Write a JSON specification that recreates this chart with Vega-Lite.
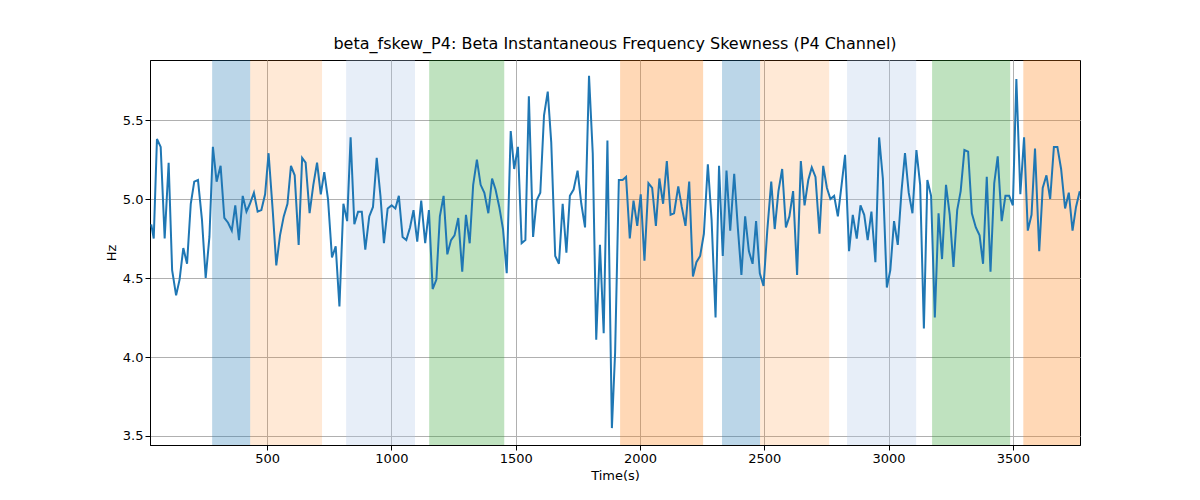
{
"$schema":"https://vega.github.io/schema/vega-lite/v6.json",
"autosize":{"type":"none"},
"width":930,"height":385,
"padding":{"left":150,"top":60,"right":120,"bottom":55},
"background":"white",
"config":{"font":"DejaVu Sans","view":{"stroke":"black","strokeWidth":1},
"axis":{"labelFont":"DejaVu Sans","titleFont":"DejaVu Sans","labelFontSize":13,"titleFontSize":13,"titleFontWeight":"normal","labelColor":"black","titleColor":"black","tickColor":"black","domainColor":"black","gridColor":"#b0b0b0","gridWidth":1,"tickSize":5}},
"title":{"text":"beta_fskew_P4: Beta Instantaneous Frequency Skewness (P4 Channel)","fontSize":16,"fontWeight":"normal","font":"DejaVu Sans","offset":8},
"datasets":{
"bands":[
{"s":279,"e":432,"c":"#1f77b4","o":0.3},
{"s":432,"e":721,"c":"#ff7f0e","o":0.17},
{"s":818,"e":1095,"c":"#aec7e8","o":0.3},
{"s":1152,"e":1454,"c":"#2ca02c","o":0.3},
{"s":1920,"e":2254,"c":"#ff7f0e","o":0.3},
{"s":2330,"e":2483,"c":"#1f77b4","o":0.3},
{"s":2483,"e":2761,"c":"#ff7f0e","o":0.17},
{"s":2833,"e":3111,"c":"#aec7e8","o":0.3},
{"s":3175,"e":3489,"c":"#2ca02c","o":0.3},
{"s":3542,"e":3770,"c":"#ff7f0e","o":0.3}
],
"series":[
{"t":34,"v":4.84},{"t":44,"v":4.75},{"t":57,"v":5.38},{"t":72,"v":5.33},{"t":88,"v":4.75},{"t":104,"v":5.23},{"t":118,"v":4.55},{"t":134,"v":4.39},{"t":148,"v":4.49},{"t":163,"v":4.69},{"t":178,"v":4.59},{"t":193,"v":4.97},{"t":207,"v":5.11},{"t":222,"v":5.12},{"t":238,"v":4.87},{"t":253,"v":4.5},{"t":268,"v":4.76},{"t":282,"v":5.33},{"t":297,"v":5.11},{"t":313,"v":5.21},{"t":328,"v":4.88},{"t":343,"v":4.85},{"t":358,"v":4.8},{"t":372,"v":4.96},{"t":387,"v":4.74},{"t":402,"v":5.02},{"t":417,"v":4.92},{"t":431,"v":4.97},{"t":447,"v":5.04},{"t":462,"v":4.92},{"t":477,"v":4.93},{"t":492,"v":5.03},{"t":506,"v":5.29},{"t":523,"v":4.92},{"t":537,"v":4.58},{"t":552,"v":4.77},{"t":567,"v":4.89},{"t":582,"v":4.97},{"t":596,"v":5.21},{"t":611,"v":5.15},{"t":627,"v":4.71},{"t":641,"v":5.26},{"t":655,"v":5.23},{"t":671,"v":4.91},{"t":686,"v":5.09},{"t":701,"v":5.23},{"t":716,"v":5.03},{"t":730,"v":5.17},{"t":745,"v":5.0},{"t":761,"v":4.63},{"t":776,"v":4.7},{"t":791,"v":4.32},{"t":807,"v":4.97},{"t":822,"v":4.86},{"t":836,"v":5.39},{"t":851,"v":4.84},{"t":866,"v":4.92},{"t":881,"v":4.92},{"t":895,"v":4.68},{"t":911,"v":4.89},{"t":926,"v":4.95},{"t":941,"v":5.26},{"t":956,"v":5.02},{"t":970,"v":4.72},{"t":985,"v":4.94},
{"t":1001,"v":4.96},{"t":1016,"v":4.94},{"t":1030,"v":5.02},{"t":1045,"v":4.76},{"t":1060,"v":4.74},{"t":1075,"v":4.82},{"t":1089,"v":4.93},{"t":1104,"v":4.73},{"t":1120,"v":4.99},{"t":1136,"v":4.72},{"t":1151,"v":4.93},{"t":1166,"v":4.43},{"t":1181,"v":4.49},{"t":1195,"v":4.89},{"t":1210,"v":5.02},{"t":1225,"v":4.65},{"t":1240,"v":4.74},{"t":1254,"v":4.77},{"t":1269,"v":4.88},{"t":1285,"v":4.54},{"t":1300,"v":4.9},{"t":1315,"v":4.72},{"t":1329,"v":5.09},{"t":1344,"v":5.25},{"t":1359,"v":5.09},{"t":1374,"v":5.04},{"t":1390,"v":4.91},{"t":1405,"v":5.13},{"t":1419,"v":5.06},{"t":1434,"v":4.95},{"t":1449,"v":4.81},{"t":1464,"v":4.53},{"t":1480,"v":5.43},{"t":1494,"v":5.19},{"t":1509,"v":5.33},{"t":1524,"v":4.72},{"t":1539,"v":4.74},{"t":1553,"v":5.65},{"t":1570,"v":4.76},{"t":1584,"v":4.99},{"t":1599,"v":5.04},{"t":1614,"v":5.53},{"t":1629,"v":5.68},{"t":1643,"v":5.36},{"t":1659,"v":4.64},{"t":1674,"v":4.59},{"t":1689,"v":4.97},{"t":1704,"v":4.66},{"t":1718,"v":5.02},{"t":1733,"v":5.06},{"t":1749,"v":5.18},{"t":1764,"v":4.97},{"t":1779,"v":4.82},{"t":1795,"v":5.78},{"t":1810,"v":5.29},{"t":1824,"v":4.11},{"t":1839,"v":4.71},{"t":1854,"v":4.15},{"t":1869,"v":5.37},{"t":1887,"v":3.55},{"t":1900,"v":4.03},
{"t":1915,"v":5.12},{"t":1930,"v":5.12},{"t":1944,"v":5.14},{"t":1959,"v":4.75},{"t":1974,"v":4.99},{"t":1989,"v":4.83},{"t":2003,"v":5.03},{"t":2018,"v":4.61},{"t":2034,"v":5.1},{"t":2049,"v":5.07},{"t":2064,"v":4.83},{"t":2078,"v":5.13},{"t":2093,"v":4.97},{"t":2108,"v":5.24},{"t":2123,"v":4.9},{"t":2137,"v":4.91},{"t":2154,"v":5.08},{"t":2168,"v":4.95},{"t":2183,"v":4.83},{"t":2198,"v":5.11},{"t":2213,"v":4.51},{"t":2227,"v":4.6},{"t":2242,"v":4.64},{"t":2257,"v":4.78},{"t":2273,"v":5.22},{"t":2288,"v":4.87},{"t":2304,"v":4.25},{"t":2318,"v":5.21},{"t":2333,"v":4.64},{"t":2348,"v":5.18},{"t":2363,"v":4.8},{"t":2379,"v":5.16},{"t":2394,"v":4.81},{"t":2408,"v":4.52},{"t":2423,"v":4.89},{"t":2438,"v":4.67},{"t":2453,"v":4.59},{"t":2467,"v":4.86},{"t":2482,"v":4.53},{"t":2497,"v":4.45},{"t":2512,"v":4.8},{"t":2528,"v":5.11},{"t":2542,"v":4.81},{"t":2557,"v":5.05},{"t":2572,"v":5.19},{"t":2587,"v":4.82},{"t":2601,"v":4.89},{"t":2616,"v":5.05},{"t":2632,"v":4.52},{"t":2647,"v":5.24},{"t":2662,"v":4.96},{"t":2677,"v":5.12},{"t":2691,"v":5.2},{"t":2706,"v":5.14},{"t":2722,"v":4.78},{"t":2737,"v":5.21},{"t":2752,"v":5.07},{"t":2766,"v":5.0},{"t":2781,"v":5.02},{"t":2796,"v":4.89},{"t":2811,"v":5.09},{"t":2825,"v":5.28},
{"t":2841,"v":4.67},{"t":2856,"v":4.9},{"t":2872,"v":4.75},{"t":2887,"v":4.96},{"t":2902,"v":4.9},{"t":2916,"v":4.74},{"t":2931,"v":4.92},{"t":2947,"v":4.6},{"t":2962,"v":5.39},{"t":2977,"v":5.13},{"t":2993,"v":4.44},{"t":3007,"v":4.55},{"t":3022,"v":4.86},{"t":3037,"v":4.71},{"t":3052,"v":5.05},{"t":3066,"v":5.29},{"t":3081,"v":5.04},{"t":3096,"v":4.91},{"t":3112,"v":5.31},{"t":3127,"v":5.09},{"t":3142,"v":4.18},{"t":3156,"v":5.12},{"t":3171,"v":5.02},{"t":3186,"v":4.25},{"t":3201,"v":4.91},{"t":3215,"v":4.62},{"t":3231,"v":5.09},{"t":3246,"v":4.9},{"t":3261,"v":4.57},{"t":3276,"v":4.93},{"t":3290,"v":5.05},{"t":3305,"v":5.31},{"t":3320,"v":5.3},{"t":3335,"v":4.91},{"t":3351,"v":4.82},{"t":3366,"v":4.77},{"t":3380,"v":4.59},{"t":3395,"v":5.14},{"t":3410,"v":4.54},{"t":3425,"v":5.1},{"t":3439,"v":5.27},{"t":3455,"v":4.86},{"t":3470,"v":5.02},{"t":3485,"v":5.02},{"t":3500,"v":4.96},{"t":3514,"v":5.76},{"t":3530,"v":5.03},{"t":3545,"v":5.39},{"t":3560,"v":4.8},{"t":3575,"v":4.9},{"t":3589,"v":5.32},{"t":3606,"v":4.67},{"t":3620,"v":5.07},{"t":3635,"v":5.15},{"t":3650,"v":5.0},{"t":3665,"v":5.33},{"t":3679,"v":5.33},{"t":3694,"v":5.19},{"t":3710,"v":4.94},{"t":3725,"v":5.04},{"t":3740,"v":4.8},{"t":3754,"v":4.95},{"t":3769,"v":5.05}
]},
"layer":[
{"data":{"name":"bands"},"mark":{"type":"rect","y":0,"y2":385},
"encoding":{"x":{"field":"s","type":"quantitative","scale":{"domain":[29,3770],"nice":false,"zero":false},"axis":{"values":[500,1000,1500,2000,2500,3000,3500],"format":"d","title":"Time(s)","grid":true,"labelFlush":false}},"x2":{"field":"e"},
"color":{"field":"c","type":"nominal","scale":null},"opacity":{"field":"o","type":"quantitative","scale":null}}},
{"data":{"name":"series"},"mark":{"type":"line","color":"#1f77b4","strokeWidth":2,"clip":true},
"encoding":{"x":{"field":"t","type":"quantitative"},"y":{"field":"v","type":"quantitative","scale":{"domain":[3.443,5.88],"nice":false,"zero":false},"axis":{"values":[3.5,4.0,4.5,5.0,5.5],"format":".1f","title":"Hz","grid":true}}}}
]
}
